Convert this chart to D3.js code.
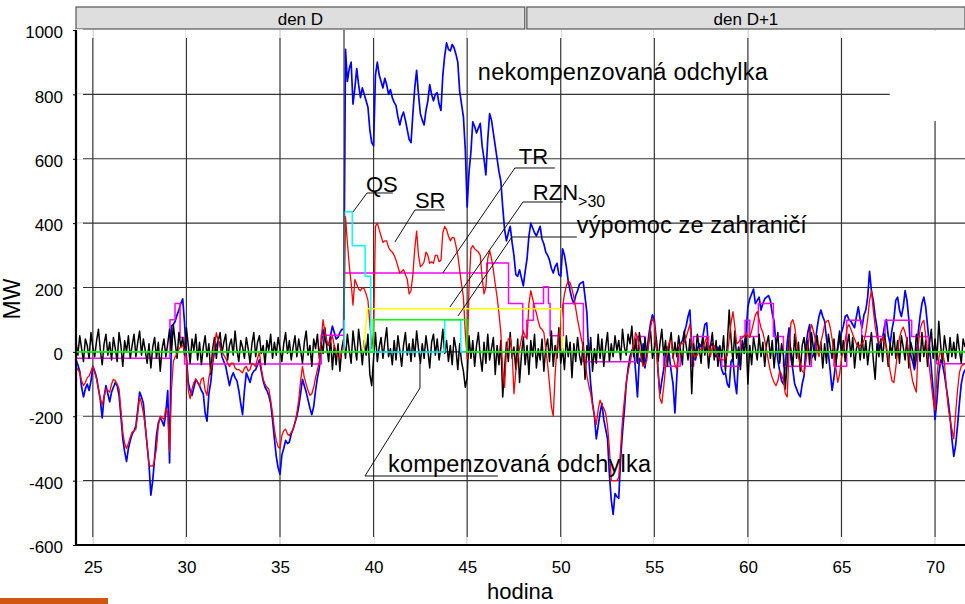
<!DOCTYPE html>
<html><head><meta charset="utf-8">
<script src="https://cdn.jsdelivr.net/npm/d3@7/dist/d3.min.js"></script>
<style>
body{margin:0;background:#fff}
svg{display:block}
text{font-family:"Liberation Sans",Arial,Helvetica,sans-serif;fill:#000}
</style>
</head><body>
<svg id="chart" width="965" height="604"></svg>
<script>
// ---------------- data ----------------
const START_HOUR = 24.1, STEP = 0.1;          // sampling of the measured series
const X_DOMAIN = [24.1, 71.6];
const Y_DOMAIN = [-600, 1000];
const xTicks = [25, 30, 35, 40, 45, 50, 55, 60, 65, 70];
const yTicks = [-600, -400, -200, 0, 200, 400, 600, 800, 1000];
const days = [
  {label: "den D",   from: 24.1,  to: 48.08},
  {label: "den D+1", from: 48.19, to: 71.6}
];

// nekompenzovaná odchylka (blue), MW, one value per 0.1 h from 24.1
const nekompenzovana = [
 -25,-40,-60,-110,-140,-115,-100,-120,-90,-45,
 -60,-80,-115,-150,-205,-140,-105,-130,-155,-125,
 -110,-95,-105,-135,-200,-270,-310,-340,-300,-275,
 -255,-245,-230,-180,-125,-140,-160,-230,-290,-350,
 -445,-400,-330,-260,-220,-205,-215,-230,-190,-120,
 -345,80,85,95,115,130,150,165,90,-15,
 -95,-120,-135,-110,-85,-95,-105,-120,-130,-190,
 -215,-130,-95,-35,0,20,35,25,-15,-30,
 -45,-75,-105,-80,-65,-80,-90,-120,-160,-195,
 -120,-65,-80,-95,-70,-60,-55,-40,-25,-60,
 -90,-110,-120,-135,-160,-210,-270,-325,-360,-380,
 -320,-300,-275,-285,-280,-255,-240,-220,-200,-170,
 -130,-85,-105,-125,-150,-175,-195,-170,-120,-80,
 -50,20,70,40,25,20,50,80,60,40,
 45,60,70,70,940,840,880,900,770,820,
 880,830,790,820,800,780,760,690,650,640,
 860,900,860,840,820,850,830,800,815,790,
 775,765,730,705,730,745,720,690,660,650,
 740,820,875,800,740,720,705,750,780,830,
 800,780,800,805,770,750,860,920,960,940,
 935,955,945,925,900,810,770,730,630,450,
 560,620,715,700,680,695,710,640,600,550,
 660,740,720,680,640,600,560,530,450,380,
 345,370,390,340,300,240,235,255,230,205,
 250,290,360,400,385,370,360,375,390,350,
 335,310,300,285,260,245,265,275,240,235,
 320,300,265,220,190,165,150,175,190,210,
 215,218,170,120,-20,-100,-160,-200,-270,-230,
 -190,-160,-210,-240,-270,-380,-460,-505,-440,-450,
 -455,-330,-250,-180,-100,-50,-15,5,15,-60,
 -140,-20,-30,25,-50,0,50,90,115,100,
 40,-60,-130,-90,-55,0,15,-10,-60,-100,
 -190,-80,10,25,35,60,80,110,130,20,
 -20,-25,10,25,15,50,85,90,10,20,
 25,-10,-15,15,-20,-55,-70,-65,-100,-110,
 -30,-20,-90,-130,-20,15,20,25,60,140,
 165,180,195,150,160,170,130,150,165,170,
 175,160,120,95,25,-25,-60,-90,-100,-40,
 30,75,-20,-55,-100,-115,-130,-140,-100,-75,
 20,60,85,-20,-10,30,75,110,130,110,
 95,40,-5,-60,-120,-80,-30,10,35,60,
 80,110,115,100,95,85,75,110,140,100,
 75,115,130,170,250,190,160,110,75,5,
 25,45,80,100,50,25,70,100,160,170,
 130,110,140,190,160,100,-10,-30,-55,-20,
 60,110,150,170,140,80,20,-50,-120,-210,
 -150,-70,-25,-40,-70,-110,-150,-200,-270,-325,
 -290,-230,-160,-100,-70,-55
];

// SR – sekundární regulace (red)
const sr = [
 -45,-55,-65,-90,-105,-95,-80,-75,-60,-45,
 -65,-85,-115,-145,-165,-140,-115,-120,-125,-100,
 -85,-90,-100,-115,-180,-250,-285,-300,-285,-265,
 -250,-245,-240,-190,-140,-160,-190,-230,-290,-350,
 -355,-355,-335,-300,-230,-200,-205,-210,-175,-190,
 -310,-120,-30,-15,-5,10,15,20,5,-20,
 -120,-145,-115,-95,-85,-95,-105,-85,-80,-120,
 -135,-80,-55,-30,20,60,35,15,0,-10,
 -20,-35,-45,-35,-35,-50,-55,-55,-60,-65,
 -50,-45,-60,-55,-35,-40,-45,-20,0,-50,
 -85,-100,-110,-115,-150,-190,-240,-275,-295,-300,
 -260,-245,-240,-255,-260,-250,-240,-220,-190,-150,
 -90,-45,-80,-100,-120,-135,-130,-110,-80,-55,
 -30,40,100,60,35,20,35,50,20,0,
 -15,-20,5,10,420,340,270,215,145,225,
 210,195,190,200,195,180,160,90,10,60,
 390,400,380,360,340,345,345,325,315,310,
 300,285,265,245,250,255,240,225,180,190,
 240,320,375,300,265,270,280,310,300,275,
 280,275,300,300,280,285,370,390,380,360,
 345,355,355,330,300,255,210,170,60,-20,
 200,320,330,320,315,310,300,230,180,200,
 290,315,290,255,210,170,120,60,-60,-110,
 10,40,45,0,-130,-60,-20,10,40,65,
 50,40,150,190,165,140,120,95,75,70,
 60,10,-40,-100,-170,-200,-70,15,50,80,
 140,180,205,220,215,195,170,135,100,70,
 40,15,-30,-75,-105,-130,-165,-200,-225,-180,
 -150,-165,-175,-190,-230,-300,-400,-400,-400,-400,
 -390,-300,-210,-150,-95,-60,-35,-5,25,60,
 45,15,-20,-45,-40,-25,30,75,105,90,
 20,-60,-145,-160,-110,-50,10,30,35,-15,
 -40,-55,0,25,25,30,45,65,85,30,
 -10,-15,-10,5,10,15,30,45,10,-15,
 15,20,0,-15,-25,-25,-25,-20,-10,40,
 90,125,80,25,30,38,44,50,55,50,
 45,65,90,115,125,100,75,60,35,5,
 -30,-60,-80,-95,-105,-90,-60,-70,-90,-130,
 -140,0,90,100,80,30,-15,-40,-60,-65,
 -30,15,60,85,65,40,5,-15,30,55,
 85,95,98,75,40,-5,-50,-95,-70,-20,
 5,35,75,85,70,55,40,25,15,20,
 25,35,60,100,160,190,130,80,45,30,
 30,45,35,15,-20,-60,-90,-95,-50,0,
 45,65,77,60,35,-10,-55,-90,-110,-125,
 20,70,90,98,50,-10,-50,-100,-150,-180,
 -75,-20,5,-5,-30,-110,-170,-210,-240,-270,
 -190,-120,-65,-45,-40,-37
];

// kompenzovaná odchylka (black)
const kompenzovana = [
 30,-10,50,10,-30,40,20,-20,60,15,
 -15,35,70,5,-40,25,55,-10,30,-25,
 45,10,-30,60,20,-45,35,0,50,-20,
 20,55,-15,30,65,-10,40,5,-35,25,
 -50,15,45,-20,30,-60,10,40,-15,25,
 70,-5,85,30,-20,60,15,45,-10,75,
 20,-35,40,5,55,-25,30,-40,15,50,
 -15,25,-70,10,45,-20,35,60,-5,30,
 55,-25,20,40,-10,65,5,-30,35,15,
 -20,45,10,-35,25,60,-15,30,50,-5,
 20,-40,35,5,55,-20,30,-10,45,10,
 -30,25,60,-5,35,-25,15,50,-15,40,
 5,-35,30,65,-10,20,-45,40,10,55,
 -20,30,-5,75,15,-30,45,-55,20,-40,
 25,-60,10,40,-20,55,5,-35,65,15,
 -25,70,20,-40,35,-10,55,-70,-105,-20,
 60,-30,15,45,-20,30,75,-15,10,-40,
 35,-25,50,5,-45,20,60,-10,25,-30,
 40,-15,65,10,-35,25,-20,50,5,-50,
 30,55,-10,40,-25,15,70,-5,35,-30,
 20,-40,45,10,-55,25,-30,-60,-110,-80,
 50,-20,35,-45,20,60,-15,-60,30,-35,
 55,-25,10,45,-70,20,-40,35,-140,-50,
 30,-30,60,-20,15,-55,40,-95,-10,45,
 -40,20,-70,35,-15,55,-50,10,-25,40,
 -60,15,40,-30,65,-45,20,-20,75,-35,
 10,-55,50,-15,30,-80,25,-30,45,-10,
 -40,30,-85,20,-25,45,-60,10,-35,55,
 -20,40,-45,15,60,-30,25,-15,50,5,
 35,-25,70,15,-10,55,25,80,-15,40,
 -35,60,20,-40,45,-15,30,65,-20,10,
 45,-30,25,70,-10,35,-45,20,60,-20,
 30,-15,50,5,-40,65,20,-25,40,-130,
 25,-20,55,10,-35,45,-10,30,-50,15,
 60,-25,35,-45,20,-15,50,-60,25,130,
 40,-30,65,-20,15,-55,35,-5,50,-100,
 20,-40,45,10,-25,55,-15,30,-45,25,
 50,-20,35,-50,15,60,-35,25,-10,-115,
 -30,40,5,-45,55,-20,30,-60,20,45,
 -15,35,-40,60,10,-25,50,-5,30,-50,
 25,-35,55,15,-20,40,-45,20,65,-10,
 35,-30,20,55,-15,45,-50,10,30,-25,
 50,-20,35,-40,15,60,-25,-85,25,-15,
 40,-30,55,10,-45,25,-10,60,-20,35,
 -35,50,15,-25,45,-50,30,5,-40,55,
 20,-30,60,-15,35,-45,25,70,-20,40,
 -25,95,20,-35,50,10,-30,45,-15,30,
 -20,55,5,-35,40,15
];

// step series: [hour, MW] – value holds until next hour
const tr = [[24.1,-20],[29.12,100],[29.39,150],[29.66,45],[29.9,-38],[37.2,52],[38.43,245],[46.05,276],[47.21,150],[47.97,46],[48.18,98],[48.54,150],[49.08,202],[49.34,150],[49.43,50],[50.14,150],[51.21,-31],[54.05,48],[54.5,0],[55.5,-45],[56.38,0],[57.0,-45],[57.1,48],[57.9,0],[58.6,-45],[59.6,48],[59.85,98],[60.1,48],[60.56,150],[61.36,48],[61.9,-45],[63.4,0],[64.6,-45],[65.28,98],[66.08,48],[67.33,98],[68.75,48],[69.64,0],[70.09,-37],[71.6,-37]];
const qs = [[38.3,0],[38.43,435],[38.86,330],[39.55,235],[39.85,0],[43.8,100],[44.66,0],[44.9,0]];
const rzn = [[39.46,0],[39.67,134],[50.02,134],[50.1,0]];
const vypomoc = [[24.1,0],[39.99,100],[44.98,0],[71.6,0]];
const eventStart = [[38.42,1000],[38.42,100]];

// annotation texts & leader lines, in data units (hour, MW)
const labels = [
  {text:"nekompenzovaná odchylka", at:[45.57, 844.7], size:23.5, len:290},
  {text:"QS", at:[39.59, 497.6], size:22},
  {text:"SR", at:[42.21, 447], size:22},
  {text:"TR", at:[47.76, 583.7], size:22},
  {text:"RZN", sub:">30", at:[48.51, 471.8], size:22},
  {text:"výpomoc ze zahraničí", at:[50.86, 368.4], size:23.5, len:230},
  {text:"kompenzovaná odchylka", at:[40.77, -372.3], size:23.5, len:263}
];
const leaders = [
  [[38.90,434.6],[39.65,493.6],[41.03,493.6]],
  [[41.14,341.4],[42.21,440.8],[43.81,440.8]],
  [[43.70,245.0],[47.55,571.3],[49.69,571.3]],
  [[44.08,139.4],[47.98,465.6],[50.11,465.6]],
  [[44.51,111.5],[47.39,356.9],[50.86,356.9]],
  [[42.48,-34.6],[42.48,-112.2],[39.54,-385.6],[46.64,-385.6]]
];
const blankArea = {h:[67.58, 71.6], v:[717, 1000]};

// ---------------- drawing ----------------
const svg = d3.select("#chart");
const L = 76, R = 965, T = 30, B = 545;
const x = d3.scaleLinear().domain(X_DOMAIN).range([L, R]);
const y = d3.scaleLinear().domain(Y_DOMAIN).range([B, T]);

svg.append("defs").append("clipPath").attr("id","clip")
  .append("rect").attr("x",L).attr("y",T).attr("width",R-L).attr("height",B-T);

// header bar
const hdr = svg.append("g");
days.forEach(d => {
  hdr.append("rect").attr("x", x(d.from)).attr("y", 7)
    .attr("width", x(d.to) - x(d.from)).attr("height", 22)
    .attr("fill", "#dedede").attr("stroke", "#555").attr("stroke-width", 1.2);
  hdr.append("text").attr("x", (x(d.from) + x(d.to)) / 2).attr("y", 25)
    .attr("text-anchor", "middle").attr("font-size", 17).text(d.label);
});

// grid
const grid = svg.append("g");
xTicks.forEach(t => grid.append("line").attr("x1", x(t)).attr("x2", x(t))
  .attr("y1", T).attr("y2", B).attr("stroke", "#333").attr("stroke-width", 1.2));
yTicks.filter(t => t > Y_DOMAIN[0] && t < Y_DOMAIN[1]).forEach(t => grid.append("line")
  .attr("x1", L).attr("x2", R).attr("y1", y(t)).attr("y2", y(t))
  .attr("stroke", "#333").attr("stroke-width", 1.2));
// white inner tick notches
xTicks.forEach(t => {
  grid.append("line").attr("x1", x(t)).attr("x2", x(t)).attr("y1", B - 8).attr("y2", B)
    .attr("stroke", "#fff").attr("stroke-width", 1.5);
  grid.append("line").attr("x1", x(t)).attr("x2", x(t)).attr("y1", T).attr("y2", T + 8)
    .attr("stroke", "#fff").attr("stroke-width", 1.5);
});
yTicks.forEach(t => grid.append("line").attr("x1", L).attr("x2", L + 7)
  .attr("y1", y(t)).attr("y2", y(t)).attr("stroke", "#fff").attr("stroke-width", 1.5));

// blank (covered) area top right
svg.append("rect").attr("x", x(blankArea.h[0])).attr("y", y(blankArea.v[1]) + 1)
  .attr("width", x(blankArea.h[1]) - x(blankArea.h[0]))
  .attr("height", y(blankArea.v[0]) - y(blankArea.v[1]) - 1).attr("fill", "#fff");

// series
const plot = svg.append("g").attr("clip-path", "url(#clip)");
const toPts = arr => arr.map((v, i) => [START_HOUR + i * STEP, v]);
const line = d3.line().x(d => x(d[0])).y(d => y(d[1]));
const stepLine = d3.line().x(d => x(d[0])).y(d => y(d[1])).curve(d3.curveStepAfter);

function draw(pts, gen, color, w) {
  plot.append("path").attr("d", gen(pts)).attr("fill", "none")
    .attr("stroke", color).attr("stroke-width", w).attr("stroke-linejoin", "round");
}
draw(toPts(nekompenzovana), line, "#0000ff", 1.7);
draw(tr, stepLine, "#ff00ff", 1.5);
draw(toPts(kompenzovana), line, "#000000", 1.5);
draw(toPts(sr), line, "#ff0000", 1.3);
draw(rzn, line, "#ffff00", 1.5);
draw(qs, stepLine, "#00ffff", 1.5);
draw(vypomoc, stepLine, "#00ff00", 1.6);
draw(eventStart, line, "#333", 1.2);

// axes
const yAxis = d3.axisLeft(y).tickValues(yTicks).tickSize(3).tickPadding(10).tickFormat(d => String(d));
const gy = svg.append("g").attr("transform", `translate(${L},0)`).call(yAxis);
gy.select(".domain").remove();
gy.selectAll("text").attr("font-size", 17).attr("dy", "0.45em")
  .style("font-family", '"Liberation Sans",Arial,sans-serif').attr("fill", "#000");
gy.selectAll("line").attr("stroke", "#000");

const xAxis = d3.axisBottom(x).tickValues(xTicks).tickSize(0).tickPadding(16).tickFormat(d => String(d));
const gx = svg.append("g").attr("transform", `translate(0,${B})`).call(xAxis);
gx.select(".domain").remove();
gx.selectAll("text").attr("font-size", 17)
  .style("font-family", '"Liberation Sans",Arial,sans-serif').attr("fill", "#000");

svg.append("line").attr("x1", L).attr("x2", L).attr("y1", T).attr("y2", B + 1)
  .attr("stroke", "#000").attr("stroke-width", 2.2);
svg.append("line").attr("x1", L - 1).attr("x2", R).attr("y1", B).attr("y2", B)
  .attr("stroke", "#000").attr("stroke-width", 2.2);

// axis titles
svg.append("text").attr("transform", "translate(20,299) rotate(-90)")
  .attr("text-anchor", "middle").attr("font-size", 23).text("MW");
svg.append("text").attr("x", 520).attr("y", 599)
  .attr("text-anchor", "middle").attr("font-size", 22).text("hodina");

// annotations
const ann = svg.append("g");
leaders.forEach(p => ann.append("path").attr("d", line(p)).attr("fill", "none")
  .attr("stroke", "#111").attr("stroke-width", 1));
labels.forEach(l => {
  const t = ann.append("text").attr("x", x(l.at[0])).attr("y", y(l.at[1]))
    .attr("font-size", l.size);
  if (l.len) t.attr("textLength", l.len).attr("lengthAdjust", "spacing");
  t.append("tspan").text(l.text);
  if (l.sub) t.append("tspan").attr("font-size", 16).attr("dy", 7).text(l.sub);
});

// decorative footer strip
svg.append("rect").attr("x", 0).attr("y", 598).attr("width", 108).attr("height", 6)
  .attr("fill", "#d2560f");
</script>
</body></html>
